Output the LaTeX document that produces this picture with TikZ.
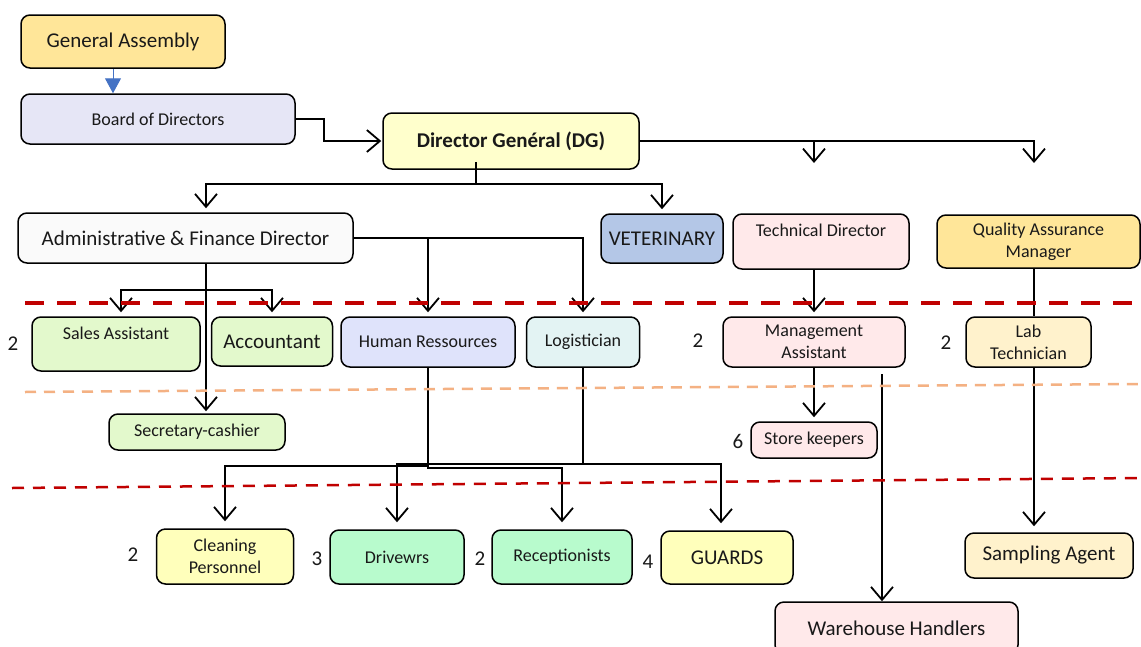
\documentclass[tikz,border=0pt]{standalone}
\usepackage{fontspec}
\setmainfont{Carlito}
\usetikzlibrary{arrows.meta}
\definecolor{cGA}{HTML}{FFE699}
\definecolor{cBoard}{HTML}{E6E6F6}
\definecolor{cDG}{HTML}{FFFFCC}
\definecolor{cAFD}{HTML}{FAFAFA}
\definecolor{cVet}{HTML}{B4C7E7}
\definecolor{cPink}{HTML}{FFE9EA}
\definecolor{cLGreen}{HTML}{E3F9CC}
\definecolor{cHR}{HTML}{DFE3FB}
\definecolor{cLog}{HTML}{E3F3F3}
\definecolor{cCream}{HTML}{FFF2CC}
\definecolor{cYel}{HTML}{FFFFBB}
\definecolor{cMint}{HTML}{B8FBCD}
\definecolor{cBlue}{HTML}{4472C4}
\definecolor{cRed}{HTML}{C00000}
\definecolor{cOrange}{HTML}{F4B183}
\newcommand\fsA{\fontsize{18}{22}\selectfont}
\newcommand\fsB{\fontsize{21}{25}\selectfont}
\begin{document}
\begin{tikzpicture}[x=1pt,y=-1pt,
  box/.style={draw=black, line width=1.5pt, rounded corners=9pt, align=center, inner sep=0pt, text=black!90},
  conn/.style={line width=1.8pt},
  arr/.style={line width=1.8pt, shorten >=4pt, -{Straight Barb[length=13pt,width=22pt]}},
  arrlow/.style={arr, shorten >=7pt},
  num/.style={font=\fsB, text=black!90, inner sep=0pt}]
\fill[white] (0,0) rectangle (1141,646);
\useasboundingbox (0,0) rectangle (1141,646);

% nodes
\node[box, fill=cGA, minimum width=204, minimum height=53, font=\fsB] (ga) at (123,41.5) {General Assembly};
\node[box, fill=cBoard, minimum width=274, minimum height=50, font=\fsA] (board) at (158,119) {Board of Directors};
\node[box, fill=cDG, minimum width=256, minimum height=56, font=\fontsize{21}{25}\selectfont\bfseries] (dg) at (511,141) {Director Genéral (DG)};
\node[box, fill=cAFD, minimum width=335, minimum height=50, font=\fsB] (afd) at (185.5,238) {Administrative \& Finance Director};
\node[box, fill=cVet, minimum width=122, minimum height=49, font=\fsB] (vet) at (662,238.5) {VETERINARY};
\node[box, fill=cPink, minimum width=176, minimum height=55, font=\fsA] (td) at (821,241.5) {Technical Director\\ \mbox{}};
\node[box, fill=cGA, minimum width=203, minimum height=53, font=\fsA] (qam) at (1038.5,241.5) {Quality Assurance\\Manager};
\node[box, fill=cLGreen, minimum width=168, minimum height=54, font=\fsA] (sales) at (116,344) {Sales Assistant\\ \mbox{}};
\node[box, fill=cLGreen, minimum width=121, minimum height=49, font=\fsB] (acc) at (272,341.5) {Accountant};
\node[box, fill=cHR, minimum width=174, minimum height=50, font=\fsA] (hr) at (428,342) {Human Ressources};
\node[box, fill=cLog, minimum width=113, minimum height=50, font=\fsA] (logi) at (583,342) {Logistician};
\node[box, fill=cPink, minimum width=182, minimum height=50, font=\fsA] (ma) at (814,342) {Management\\Assistant};
\node[box, fill=cCream, minimum width=125, minimum height=50, font=\fsA] (lab) at (1028.5,342) {Lab\\Technician};
\node[box, fill=cLGreen, minimum width=176, minimum height=36, font=\fsA] (sec) at (197,432) {Secretary-cashier};
\node[box, fill=cPink, minimum width=126, minimum height=36, font=\fsA] (sk) at (814,440) {Store keepers};
\node[box, fill=cYel, minimum width=137, minimum height=55, font=\fsA] (clean) at (225,556.5) {Cleaning\\Personnel};
\node[box, fill=cMint, minimum width=134, minimum height=54, font=\fsA] (drv) at (397,557) {Drivewrs};
\node[box, fill=cMint, minimum width=140, minimum height=54, font=\fsA] (rec) at (562,557) {Receptionists};
\node[box, fill=cYel, minimum width=132, minimum height=53, font=\fsB] (grd) at (727,557.5) {GUARDS};
\node[box, fill=cPink, minimum width=243, minimum height=52, font=\fsB] (wh) at (896.5,628) {Warehouse Handlers};
\node[box, fill=cCream, minimum width=168, minimum height=45, font=\fsB] (samp) at (1049,555.5) {Sampling Agent};

% counts
\node[num] (n1) at (13,344) {2};
\node[num] (n2) at (698,341) {2};
\node[num] (n3) at (946,343) {2};
\node[num] (n4) at (738,441) {6};
\node[num] (n5) at (133,555) {2};
\node[num] (n6) at (317,559) {3};
\node[num] (n7) at (480,559) {2};
\node[num] (n8) at (648,562) {4};

% coordinates
\coordinate (tdtip) at (814,163);
\coordinate (qatip) at (1034,163);
\coordinate (dgj) at (476,184);
\coordinate (afv) at (206,290);
\coordinate (whs) at (882,374);

% connectors
\draw[cBlue, line width=1pt, -{Triangle[length=15pt,width=16pt]}] ([xshift=-10pt]ga.south) -- ([xshift=-10pt]ga.south |- board.north);
\draw[arr, shorten >=1pt] (board.east) -- ++(28,0) |- (dg.west);
\draw[arr, shorten >=0pt] (dg.east) -| (qatip);
\draw[arr, shorten >=0pt] (dg.east -| tdtip) -- (tdtip);
\draw[conn] ([yshift=8pt]dgj |- dg.south) -- (dgj);
\draw[arr] (dgj) -| ([xshift=20.5pt]afd.north);
\draw[arr] (dgj) -| (vet.north);
\draw[arr] (afd.east) -| (hr.north);
\draw[arr] (afd.east) -| (logi.north);
\draw[arr, shorten >=2pt] ([xshift=20.5pt]afd.south) -- (afv |- sec.north);
\draw[arr] (afv) -| ([xshift=5pt]sales.north);
\draw[arr] (afv) -| (acc.north);
\draw[arr] (ma.north |- td.south) -- (ma.north);
\draw[arr] (ma.south) -- (sk.north);
\draw[arr, shorten >=0pt] (whs) -- (whs |- wh.north);
\draw[conn] (qatip |- qam.south) -- (qatip |- lab.north);
\draw[arr, shorten >=6pt] (qatip |- lab.south) -- (qatip |- samp.north);
\draw[arrlow] (hr.south) -- ++(0,98) -| (clean.north);
\draw[arrlow] (hr.south) -- ++(0,100) -| (rec.north);
\draw[arrlow] (logi.south) -- ++(0,96) -| (drv.north);
\draw[arrlow] (logi.south) -- ++(0,96) -| ([xshift=-6pt]grd.north);

% separator lines
\draw[cRed, line width=4.5pt, dash pattern=on 19pt off 13pt] (25,303) -- (1141,303);
\draw[cOrange, line width=2.5pt, dash pattern=on 11pt off 8pt] (25,392) -- (1141,384);
\draw[cRed, line width=2.5pt, dash pattern=on 12pt off 9pt] (12,488) -- (1141,478);
\end{tikzpicture}
\end{document}
